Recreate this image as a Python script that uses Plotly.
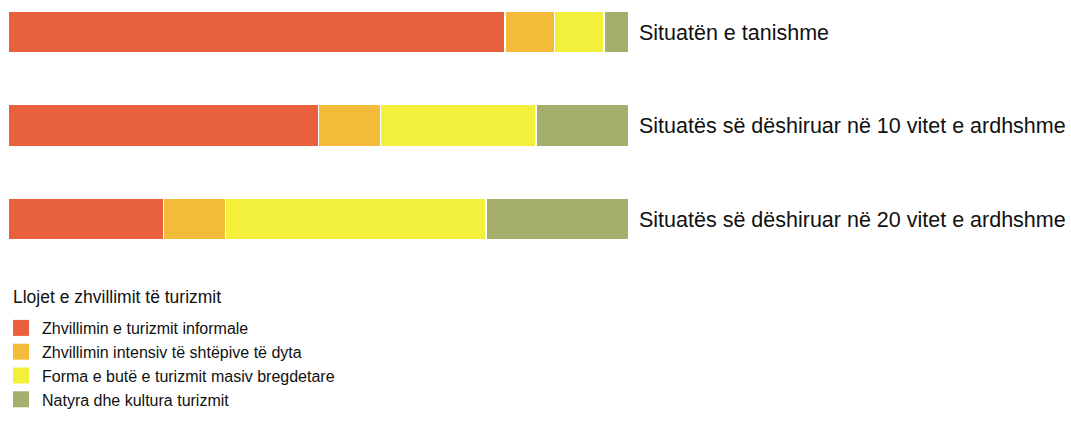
import plotly.graph_objects as go

scenarios = ["Situatën e tanishme",
             "Situatës së dëshiruar në 10 vitet e ardhshme",
             "Situatës së dëshiruar në 20 vitet e ardhshme"]
series_names = ["Zhvillimin e turizmit informale",
                "Zhvillimin intensiv të shtëpive të dyta",
                "Forma e butë e turizmit masiv bregdetare",
                "Natyra dhe kultura turizmit"]
informal = [80, 50, 25]
second_homes = [8, 10, 10]
soft_mass = [8, 25, 42]
nature_culture = [4, 15, 23]
colors = ["#E8603C", "#F2BC3A", "#F2F03A", "#A5AE6A"]
legend_title = "Llojet e zhvillimit të turizmit"

FONT = "Liberation Sans, Arial"
W, H = 1071, 424
fig = go.Figure()
for i, (name, vals) in enumerate(zip(series_names, [informal, second_homes, soft_mass, nature_culture])):
    fig.add_trace(go.Bar(
        y=scenarios, x=vals, name=name, orientation="h",
        marker=dict(color=colors[i], line=dict(color="white", width=1.5)),
        width=0.45, showlegend=False, hoverinfo="skip",
    ))
# legend entries (larger square swatches)
for i, name in enumerate(series_names):
    fig.add_trace(go.Scatter(
        x=[None], y=[None], name=name, mode="markers",
        marker=dict(symbol="square", size=16, color=colors[i]),
        legendgroup=f"g{i}", hoverinfo="skip",
    ))

for s in scenarios:
    fig.add_annotation(x=100, y=s, xref="x", yref="y", text=s, showarrow=False,
                       xanchor="left", yanchor="middle", xshift=8, yshift=-1,
                       font=dict(family=FONT, size=21.5, color="#111111"))

# legend title
fig.add_annotation(x=11 / W, y=1 - 297 / H, xref="paper", yref="paper", text=legend_title,
                   showarrow=False, xanchor="left", yanchor="middle",
                   font=dict(family=FONT, size=17.5, color="#111111"))

fig.update_layout(
    width=W, height=H, barmode="stack",
    margin=dict(l=0, r=0, t=0, b=0),
    paper_bgcolor="white", plot_bgcolor="white",
    xaxis=dict(domain=[8 / W, 629 / W], range=[0, 100], visible=False, fixedrange=True),
    yaxis=dict(type="category", range=[4.193, -0.342], visible=False,
               categoryorder="array", categoryarray=scenarios),
    showlegend=True,
    legend=dict(x=0, y=1 - 311 / H, xanchor="left", yanchor="top",
                font=dict(family=FONT, size=16, color="#111111"),
                tracegroupgap=0, itemwidth=32, bgcolor="rgba(0,0,0,0)"),
    font=dict(family=FONT),
)
fig.write_html("out.html", config={"displayModeBar": False})
